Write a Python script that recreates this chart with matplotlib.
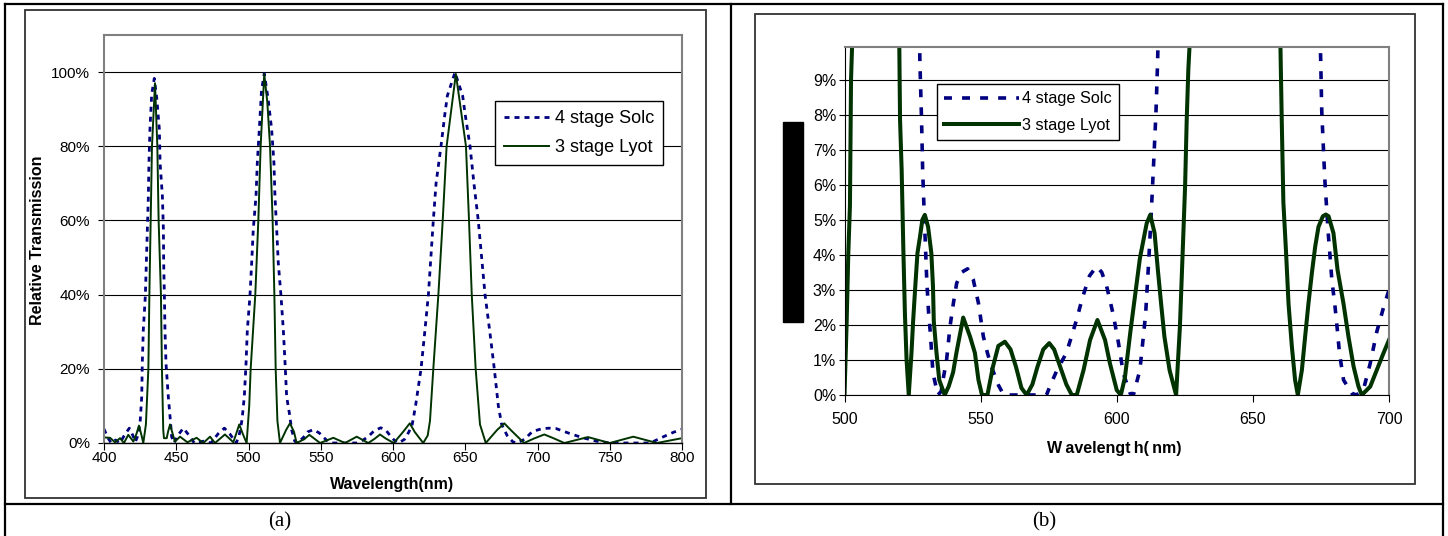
import matplotlib
matplotlib.use("Agg")
import matplotlib.pyplot as plt
from matplotlib.lines import Line2D
from matplotlib.patches import Rectangle

plt.rcParams['font.family'] = ['Liberation Sans', 'DejaVu Sans']

# ---- panel (a): 400-800 nm, relative transmission in %
lyot_a_nm = [400, 404.2, 407.6, 411.1, 413.8, 416.8, 420.3, 422.5, 424.2, 426, 427.2,
             429.0, 430.7, 431.4, 432.3, 433.2, 435.3, 436.9, 437.8, 439.4, 440.1, 441.0,
             441.5, 443.4, 444.3, 445.7, 447.5, 449.1, 452.6, 457.7, 464.1, 468.7, 473.4,
             476.8, 483.7, 489.5, 491.5, 493.6, 496, 498.7, 500.5, 501.5, 504.7, 506.8,
             508.4, 510.9, 513.0, 514.9, 516.7, 517.9, 518.8, 520.0, 521.8, 526, 528.7,
             531.5, 533.3, 538.5, 542.1, 545.5, 549.5, 558.7, 566.8, 574.9, 582.9, 587.5,
             591.0, 595, 600.5, 607, 611.6, 615, 620.9, 624.0, 625.6, 627.9, 631.4, 634.4,
             637.1, 643.5, 650.5, 652.6, 654.5, 657.2, 660.2, 664.2, 672, 677.0, 681.5,
             690.7, 697.5, 704.7, 711, 718.6, 734.9, 750.0, 766.3, 782.6, 800]
lyot_a = [1.5, 1.4, 0.2, 1.3, 0.0, 2.2, 0.4, 2.5, 4.7, 2.0, 0.0,
          5, 20, 40, 60, 80, 97, 80, 60, 40, 20, 3.5,
          1.3, 1.3, 3.0, 5.0, 2.5, 0.4, 1.7, 0.2, 1.4, 0.0, 1.7,
          0.0, 2.3, 0.2, 2.5, 5.0, 2.5, 0.0, 10, 20, 40, 60,
          80, 99.5, 92, 80, 60, 40, 20, 6, 0.0, 3.5, 5.3,
          3.0, 0.0, 1.0, 2.2, 1.2, 0.0, 1.4, 0.0, 1.7, 0.0, 1.2,
          2.3, 1.2, 0.0, 3.0, 5.3, 3.0, 0.0, 2, 6, 20, 40, 60,
          80, 99.5, 80, 60, 40, 20, 5, 0.0, 3.5, 5.3, 3.5,
          0.0, 1.2, 2.3, 1.3, 0.0, 1.6, 0.0, 1.7, 0.0, 1.3]

solc_a_nm = [400, 402.5, 405, 408, 411, 414, 417.5, 420, 421.7, 423.2, 424.5, 425.1,
             426.1, 426.5, 427.2, 428.6, 429.3, 430.0, 430.7, 431.1, 431.8, 433.0, 434.8,
             436.5, 438.3, 438.8, 440.4, 441.1, 441.3, 441.8, 442.2, 442.9, 444.5, 445.9,
             446.8, 448.5, 451, 454.9, 459, 462.5, 469, 474, 479, 483.3, 487, 491.5, 493.5,
             495.5, 497.1, 498.3, 499.2, 501.0, 502.2, 503.3, 505.2, 506.1, 507.5, 509,
             510.9, 513.5, 516.0, 517.6, 518.3, 519.5, 520.6, 522.5, 524.1, 525.3, 526.4,
             528.3, 529.9, 532, 534, 538, 541, 544.9, 549, 552, 555, 557.5, 575, 579.4,
             583, 587, 591.5, 595, 598, 601, 604, 608, 611, 613.3, 615.6, 619.4, 622,
             624.5, 627.9, 629.8, 633.2, 636.0, 637.6, 642.9, 648.2, 649.8, 653.3, 656,
             659, 663.7, 667, 670.1, 672.9, 675.2, 679, 683, 686, 691, 696.5, 703.5,
             708.6, 712.8, 722, 731.4, 740.7, 750, 778, 787.2, 794.2, 800]
solc_a = [3.8, 1.5, 0.0, 0.8, 0.0, 2.0, 4.0, 2.0, 0.3, 1.8, 4.4, 6.2,
          12.5, 21.5, 30.5, 39.6, 48.6, 57.6, 66.6, 75.6, 84.6, 94, 98.3,
          93, 84.6, 75.6, 66.6, 57.6, 48.6, 39.6, 30.5, 21.5, 12.5, 6.2,
          1.7, 0.0, 2.0, 4.0, 2.0, 0.0, 0.5, 0.0, 2.5, 4.0, 2.5, 0.0, 2.0,
          6.2, 12.5, 21.5, 30.5, 39.6, 48.6, 57.6, 66.6, 75.6, 84.6, 95,
          99.6, 93, 84.6, 75.6, 66.6, 57.6, 48.6, 39.6, 30.5, 21.5, 12.5,
          8.0, 3.5, 0.5, 0.0, 1.5, 3.0, 3.6, 2.7, 1.5, 0.4, 0.0, 0.0, 0.8,
          1.8, 3.3, 4.1, 3.5, 2.0, 0.7, 0.0, 1.0, 3.0, 5.0, 10, 20, 30,
          40, 60, 70, 80, 89, 93.6, 99.9, 93.6, 89, 80, 70,
          60, 40, 30, 20, 10, 5, 2, 0.3, 0.0, 1.0, 3.1, 3.9,
          4.0, 3.9, 2.6, 1.4, 0.5, 0.0, 0.0, 1.7, 2.9, 3.7]

# ---- panel (b): 500-700 nm, detail of the side lobes in %
lyot_b_nm = [500.0, 500.8, 501.4, 502.0, 502.4, 503.0, 506, 510, 515, 520.1, 520.4, 521.0,
             521.6, 522.2, 522.8, 523.6, 524.6, 525.2, 526.0, 526.8, 527.7, 528.6, 529.5,
             530.7, 531.9, 532.5, 532.8, 533.8, 534.8, 536.8, 538.3, 539.9, 541.1, 543.6,
             546.1, 547.9, 549.2, 550.5, 552.5, 554.5, 556.5, 558.9, 561.0, 563.0, 565.0,
             566.9, 569.0, 570.9, 573.0, 575.2, 577.0, 579.2, 581.5, 583.5, 585.3, 587.8,
             590.2, 592.9, 595.7, 597.5, 600.0, 601.5, 603.0, 605.0, 607.0, 608.5, 610.0,
             611.0, 612.3, 613.9, 615.1, 616.3, 617.5, 619.4, 621.8, 623.2, 624.2, 625.1,
             625.7, 626.3, 627.1, 635, 643, 652, 660.0, 660.6, 661.2, 662.2, 663.1, 664.3,
             665.5, 666.5, 668.0, 669.2, 670.4, 671.7, 672.9, 674.1, 675.7, 676.8, 677.8,
             679.6, 681.1, 683.3, 685.1, 687.0, 688.8, 690.0, 693.1, 695.5, 698.0, 700.0]
lyot_b = [0.0, 2.1, 4.05, 5.4, 9.0, 10.5, 60, 99, 60, 10.2, 7.86, 6.4,
          4.2, 2.3, 1.0, 0.0, 1.2, 2.1, 3.1, 4.05, 4.5, 5.0, 5.14,
          4.8, 4.05, 3.1, 2.1, 1.2, 0.43, 0.0, 0.25, 0.65, 1.2, 2.21,
          1.67, 1.2, 0.43, 0.0, 0.0, 0.8, 1.4, 1.52, 1.3, 0.8, 0.2,
          0.0, 0.3, 0.81, 1.3, 1.48, 1.3, 0.81, 0.3, 0.0, 0.0, 0.71,
          1.57, 2.14, 1.57, 0.9, 0.14, 0.0, 0.5, 1.8, 3.0, 3.9, 4.5,
          4.9, 5.14, 4.62, 3.57, 2.6, 1.67, 0.71, 0.0, 1.95, 4.05, 5.95,
          7.86, 9.3, 10.5, 60, 99, 60, 10.5, 7.86, 5.5, 4.05, 2.6, 1.4,
          0.43, 0.0, 0.71, 1.67, 2.6, 3.5, 4.24, 4.8, 5.1, 5.15, 5.1,
          4.62, 3.57, 2.6, 1.67, 0.81, 0.24, 0.0, 0.24, 0.71, 1.2, 1.57]

solc_b_nm = [500, 510, 520, 527.5, 527.7, 528.3, 528.7, 529.0, 529.6, 530.2, 530.9, 531.5,
             532.5, 534.3, 535.5, 536.3, 537.5, 538.75, 540.0, 541.2, 543.0, 545.2, 547.3,
             549.2, 551.0, 552.5, 554.1, 556.6, 558.5, 574.2, 575.4, 578.0, 581.5, 583.5,
             585.2, 587.5, 590.0, 592.6, 594.5, 596.3, 598.7, 600.6, 602.4, 604.9, 606.1,
             608.5, 610.6, 611.8, 612.8, 613.6, 614.4, 615.0, 615.3, 625, 643, 660, 674.6,
             674.9, 675.3, 676.1, 676.5, 677.7, 679.0, 680.2, 681.1, 681.8, 683.3, 686.3,
             688.0, 690.6, 693.1, 695.5, 698.0, 700.0]
solc_b = [40, 99.6, 48, 10.5, 9.48, 7.86, 6.43, 5.76, 4.5, 3.3, 2.33, 1.8,
          0.62, 0.0, 0.1, 0.48, 1.0, 1.95, 2.62, 3.19, 3.5, 3.6, 3.29,
          2.62, 1.67, 1.2, 0.78, 0.27, 0.0, 0.0, 0.24, 0.7, 1.2, 1.7,
          2.14, 2.8, 3.4, 3.67, 3.5, 3.1, 2.3, 1.5, 0.62, 0.05, 0.0,
          0.71, 2.3, 3.9, 5.4, 6.7, 8.05, 9.5, 10.5, 40, 99.9, 40, 10.5,
          9.6, 8.1, 6.7, 6.05, 4.6, 3.3, 2.5, 1.8, 1.2, 0.43, 0.05,
          0.0, 0.15, 0.9, 1.8, 2.5, 3.0]

NAVY = '#000080'
GREEN = '#003300'

W, H = 1448, 536
def fx(px): return px / W
def fy(py): return 1 - py / H

fig = plt.figure(figsize=(W / 100, H / 100), dpi=100)

# table frame around the two charts
for x0, y0, x1, y1 in [(5, 4, 1443, 4), (5, 4, 5, 536), (1443, 4, 1443, 536),
                       (731, 4, 731, 504), (5, 504, 1443, 504)]:
    fig.add_artist(Line2D([fx(x0), fx(x1)], [fy(y0), fy(y1)], color='black', lw=1.6,
                          transform=fig.transFigure))

# chart area borders
fig.add_artist(Rectangle((fx(25), fy(498)), 681 / W, 488 / H, fill=False, ec='#333333',
                         lw=1.3, transform=fig.transFigure))
fig.add_artist(Rectangle((fx(755), fy(484)), 660 / W, 470 / H, fill=False, ec='#333333',
                         lw=1.3, transform=fig.transFigure))

# ------------------------------------------------------------ (a)
ax_a = fig.add_axes([fx(104), fy(443), 578 / W, 408 / H])
ax_a.plot(solc_a_nm, solc_a, color=NAVY, lw=2.0, dashes=(1.8, 1.8), label='4 stage Solc')
ax_a.plot(lyot_a_nm, lyot_a, color=GREEN, lw=1.4, label='3 stage Lyot')
ax_a.set_xlim(400, 800)
ax_a.set_ylim(0, 110)
ax_a.set_xticks(range(400, 801, 50))
ax_a.set_yticks(range(0, 101, 20), labels=['%d%%' % v for v in range(0, 101, 20)])
ax_a.grid(axis='y', color='black', lw=0.8)
ax_a.set_axisbelow(True)
for s in ('top', 'right', 'left'):
    ax_a.spines[s].set_color('#808080')
    ax_a.spines[s].set_linewidth(1.5)
ax_a.spines['bottom'].set_linewidth(1.0)
ax_a.tick_params(axis='y', length=4, width=0.8, pad=6, labelsize=11)
ax_a.tick_params(axis='x', length=5, width=0.8, pad=0.5, labelsize=11)
leg = ax_a.legend(loc='upper left', bbox_to_anchor=(fx(495), fy(101)),
                  bbox_transform=fig.transFigure, borderaxespad=0, fontsize=13,
                  handlelength=2.5, handletextpad=0.3, borderpad=0.5, labelspacing=0.66,
                  fancybox=False, framealpha=1, edgecolor='black')
leg.get_frame().set_linewidth(1.0)
fig.text(fx(38), fy(240), 'Relative Transmission', rotation=90, ha='center', va='center',
         fontsize=11.5, fontweight='bold')
fig.text(fx(392), fy(484), 'Wavelength(nm)', ha='center', va='center',
         fontsize=11.5, fontweight='bold')

# ------------------------------------------------------------ (b)
ax_b = fig.add_axes([fx(844.5), fy(395), 544.5 / W, 348 / H])
ax_b.plot(solc_b_nm, solc_b, color=NAVY, lw=2.6, dashes=(2.2, 2.8), label='4 stage Solc')
ax_b.plot(lyot_b_nm, lyot_b, color=GREEN, lw=2.9, solid_joinstyle='round',
          label='3 stage Lyot')
ax_b.set_xlim(500, 700)
ax_b.set_ylim(0, 9.93)
ax_b.set_xticks(range(500, 701, 50))
ax_b.set_yticks(range(0, 10), labels=['%d%%' % v for v in range(0, 10)])
ax_b.grid(axis='y', color='black', lw=0.8)
ax_b.set_axisbelow(True)
for s in ('top', 'right'):
    ax_b.spines[s].set_color('#808080')
    ax_b.spines[s].set_linewidth(1.5)
ax_b.tick_params(axis='y', length=4, width=0.8, pad=2, labelsize=11.5)
ax_b.tick_params(axis='x', length=5, width=0.8, pad=7, labelsize=11.5)
leg = ax_b.legend(loc='upper left', bbox_to_anchor=(fx(937), fy(84)),
                  bbox_transform=fig.transFigure, borderaxespad=0, fontsize=11.7,
                  handlelength=4.6, handletextpad=0.15, borderpad=0.45, labelspacing=0.7,
                  fancybox=False, framealpha=1, edgecolor='black')
leg.get_frame().set_linewidth(1.0)
fig.text(fx(1114), fy(449), 'W\u2009avelengt\u2009h(\u2009nm)', ha='center', va='center',
         fontsize=11.5, fontweight='bold')
fig.add_artist(Rectangle((fx(783), fy(322)), 20 / W, 200 / H, color='black',
                         transform=fig.transFigure))

# captions
fig.text(fx(280), fy(522), '(a)', ha='center', va='center', fontsize=15,
         family=['Liberation Serif', 'DejaVu Serif'])
fig.text(fx(1044), fy(522), '(b)', ha='center', va='center', fontsize=15,
         family=['Liberation Serif', 'DejaVu Serif'])

fig.savefig('out.png', dpi=100)
